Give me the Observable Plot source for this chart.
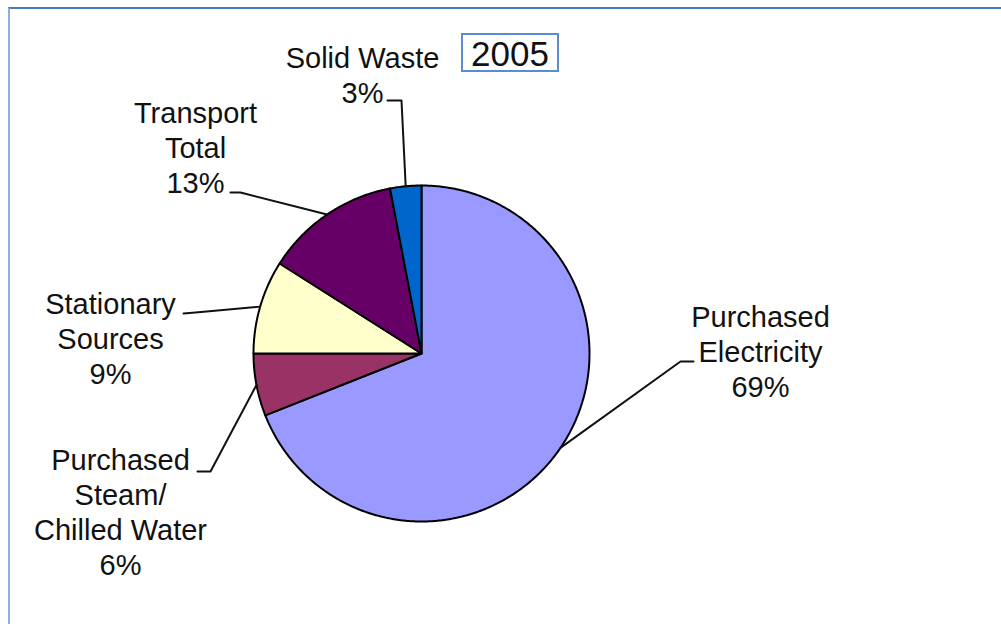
<!DOCTYPE html>
<html><head><meta charset="utf-8">
<script src="https://cdn.jsdelivr.net/npm/d3@7"></script>
<script src="https://cdn.jsdelivr.net/npm/@observablehq/plot@0.6"></script>
<style>
body{margin:0;background:#fff;overflow:hidden;}
#wrap{position:relative;width:1001px;height:624px;}
#frame{position:absolute;left:8px;top:7px;width:1200px;height:800px;border-left:2px solid #8cb0e0;border-top:2px solid #4a7ebb;box-sizing:border-box;}
#title{position:absolute;left:461px;top:33px;width:98px;height:39px;box-sizing:border-box;border:2px solid #5b8bd0;font:35px "Liberation Sans",Arial,sans-serif;color:#111;text-align:center;line-height:37px;}
#chart{position:absolute;left:0;top:0;}
</style></head><body>
<div id="wrap"><div id="frame"></div><div id="chart"></div><div id="title">2005</div></div>
<script>
// data
const categories = ["Purchased\nElectricity", "Purchased\nSteam/\nChilled Water", "Stationary\nSources", "Transport\nTotal", "Solid Waste"];
const values = [69, 6, 9, 13, 3];
const colors = ["#9999FF", "#993366", "#FFFFCC", "#660066", "#0066CC"];

// layout (pixels)
const center = [421, 353], radius = 168;
const labelPos = [[760, 396], [120, 574], [110, 383], [195, 192], [362, 102]];      // center x, last-line baseline
const leaderPts = [[[680, 361], [693, 361]], [[210, 471], [197, 471]], [[195, 312], [183, 313]], [[240, 192], [230, 192]], [[401, 100], [387, 100]]];

const arcs = d3.pie().sort(null).startAngle(0).endAngle(2 * Math.PI)(values);
const pt = a => [center[0] + radius * Math.sin(a), center[1] - radius * Math.cos(a)];

const slicePts = [];
arcs.forEach((d, i) => {
  slicePts.push({cat: categories[i], x: center[0], y: center[1]});
  const n = Math.max(2, Math.ceil((d.endAngle - d.startAngle) / 0.01));
  for (let k = 0; k <= n; k++) {
    const [x, y] = pt(d.startAngle + (d.endAngle - d.startAngle) * k / n);
    slicePts.push({cat: categories[i], x, y});
  }
  slicePts.push({cat: categories[i], x: center[0], y: center[1]});
});

const leaders = [];
arcs.forEach((d, i) => {
  const [x, y] = pt((d.startAngle + d.endAngle) / 2);
  leaders.push({cat: categories[i], x, y});
  leaderPts[i].forEach(([px, py]) => leaders.push({cat: categories[i], x: px, y: py}));
});

const labels = categories.map((c, i) => ({text: c + "\n" + values[i] + "%", x: labelPos[i][0], y: labelPos[i][1]}));

const chart = Plot.plot({
  width: 1001, height: 624,
  margin: 0,
  axis: null,
  x: {type: "identity"},
  y: {type: "identity"},
  color: {domain: categories, range: colors},
  style: {background: "transparent"},
  marks: [
    Plot.line(slicePts, {x: "x", y: "y", z: "cat", fill: "cat", stroke: "#000", strokeWidth: 2, strokeLinejoin: "round"}),
    Plot.line(leaders, {x: "x", y: "y", z: "cat", stroke: "#111", strokeWidth: 2}),
    Plot.text(labels, {x: "x", y: "y", text: "text", fontSize: 29, lineHeight: 1.207, lineAnchor: "bottom", textAnchor: "middle", fill: "#111", fontFamily: "Liberation Sans, Arial, sans-serif"})
  ]
});
document.getElementById("chart").appendChild(chart);
</script>
</body></html>
